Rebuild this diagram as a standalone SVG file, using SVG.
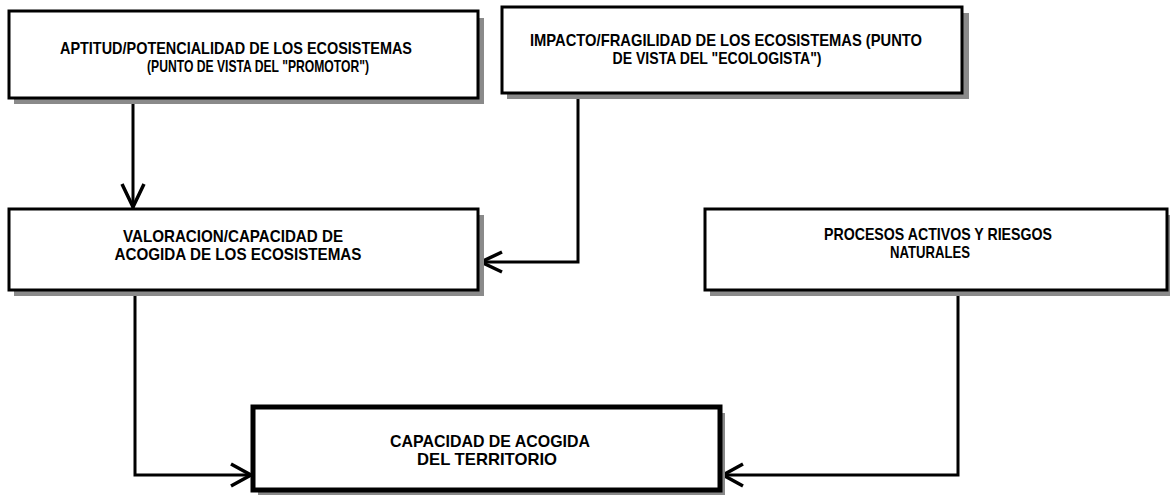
<svg xmlns="http://www.w3.org/2000/svg" width="1170" height="502" viewBox="0 0 1170 502">
<style>
.box{fill:#fff;stroke:#000;stroke-width:3}
.box5{fill:#fff;stroke:#000;stroke-width:5}
.sh{fill:#8a8a8a}
.t{font-family:"Liberation Sans",Arial,sans-serif;font-weight:bold;font-size:17px;fill:#000;text-anchor:middle}
.c{fill:none;stroke:#000;stroke-width:3}
.ah{fill:none;stroke:#000;stroke-width:3.5;stroke-linejoin:miter}
</style>
<rect width="1170" height="502" fill="#fff"/>
<g id="connectors">
<path class="c" d="M133 100 V208"/>
<path class="ah" d="M122 184 L133 207 L144 184"/>
<path class="c" d="M578 96 V262 H480"/>
<path class="ah" d="M502 252 L481 262 L502 272"/>
<path class="c" d="M135 292 V475 H252"/>
<path class="ah" d="M231 464 L251 475 L231 486"/>
<path class="c" d="M958 292 V475 H722"/>
<path class="ah" d="M743 464 L723 475 L743 486"/>
</g>
<g id="n1">
<rect class="sh" x="14" y="18" width="470" height="86"/>
<rect class="box" x="9" y="11" width="469" height="87"/>
<text class="t" x="236" y="54" textLength="352" lengthAdjust="spacingAndGlyphs">APTITUD/POTENCIALIDAD DE LOS ECOSISTEMAS</text>
<text class="t" x="258" y="72" textLength="222" lengthAdjust="spacingAndGlyphs">(PUNTO DE VISTA DEL "PROMOTOR")</text>
</g>
<g id="n2">
<rect class="sh" x="507" y="13" width="462" height="86"/>
<rect class="box" x="502" y="7" width="460" height="86"/>
<text class="t" x="726" y="46" textLength="392" lengthAdjust="spacingAndGlyphs">IMPACTO/FRAGILIDAD DE LOS ECOSISTEMAS (PUNTO</text>
<text class="t" x="717" y="64" textLength="209" lengthAdjust="spacingAndGlyphs">DE VISTA DEL "ECOLOGISTA")</text>
</g>
<g id="n3">
<rect class="sh" x="14" y="215" width="470" height="81"/>
<rect class="box" x="9" y="209" width="469" height="81"/>
<text class="t" x="233" y="242" textLength="220" lengthAdjust="spacingAndGlyphs">VALORACION/CAPACIDAD DE</text>
<text class="t" x="238" y="260" textLength="247" lengthAdjust="spacingAndGlyphs">ACOGIDA DE LOS ECOSISTEMAS</text>
</g>
<g id="n4">
<rect class="sh" x="710" y="215" width="462" height="81"/>
<rect class="box" x="705" y="209" width="462" height="81"/>
<text class="t" x="938" y="240" textLength="228" lengthAdjust="spacingAndGlyphs">PROCESOS ACTIVOS Y RIESGOS</text>
<text class="t" x="930" y="258" textLength="80" lengthAdjust="spacingAndGlyphs">NATURALES</text>
</g>
<g id="n5">
<rect class="sh" x="258" y="413" width="467" height="82"/>
<rect class="box5" x="253" y="407" width="467" height="83"/>
<text class="t" x="490" y="447" textLength="200" lengthAdjust="spacingAndGlyphs">CAPACIDAD DE ACOGIDA</text>
<text class="t" x="487" y="465" textLength="140" lengthAdjust="spacingAndGlyphs">DEL TERRITORIO</text>
</g>
</svg>
